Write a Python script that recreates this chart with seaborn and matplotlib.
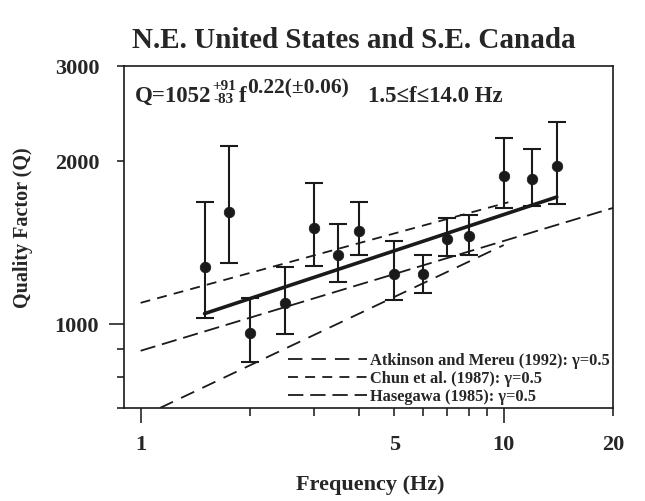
import numpy as np
import pandas as pd
import matplotlib
matplotlib.use("Agg")
import matplotlib.pyplot as plt
import seaborn as sns
from matplotlib.ticker import FixedLocator, FuncFormatter

# ---- data ----
freq = [1.5, 1.75, 2.0, 2.5, 3.0, 3.5, 4.0, 5.0, 6.0, 7.0, 8.0, 10.0, 12.0, 14.0]
q_obs = [1276, 1612, 965, 1095, 1508, 1343, 1489, 1239, 1239, 1435, 1456, 1879, 1853, 1963]
q_upper = [1685, 2132, 1118, 1276, 1824, 1530, 1685, 1423, 1343, 1574, 1589, 2211, 2110, 2360]
q_lower = [1027, 1296, 851, 958, 1283, 1195, 1341, 1110, 1143, 1335, 1345, 1637, 1654, 1670]

fit_f = [1.5, 14.0]
fit_q = [1046, 1718]

ref_names = ["Atkinson and Mereu (1992): γ=0.5",
             "Chun et al. (1987): γ=0.5",
             "Hasegawa (1985): γ=0.5"]
atk_f = [1.13, 10.0]
atk_q = [700, 1400]
chun_f = [1.0, 10.3]
chun_q = [1095, 1680]
hase_f = [1.0, 20.0]
hase_q = [893, 1640]

x_major = [1, 10]
x_minor = [2, 3, 4, 5, 6, 7, 8, 9, 20]
x_minor_labels = {5: "5", 20: "20"}
y_major = [1000]
y_minor = [700, 800, 900, 2000, 3000]
y_minor_labels = {2000: "2000", 3000: "3000"}

# ---- style ----
sns.set_theme(style="ticks")
plt.rcParams["font.family"] = ["Liberation Serif", "DejaVu Serif"]
plt.rcParams["font.weight"] = "bold"
plt.rcParams["axes.labelweight"] = "bold"

fig = plt.figure(figsize=(6.45, 5.01), dpi=100)
ax = fig.add_axes([124/645, 1-408/501, (613-124)/645, (408-66)/501])

refs = pd.DataFrame({
    "f": atk_f + chun_f + hase_f,
    "Q": atk_q + chun_q + hase_q,
    "source": [ref_names[0]]*len(atk_f) + [ref_names[1]]*len(chun_f) + [ref_names[2]]*len(hase_f),
})
dash_map = {ref_names[0]: (8.0, 5.0), ref_names[1]: (5.5, 4.0), ref_names[2]: (8.5, 3.8)}
sns.lineplot(data=refs, x="f", y="Q", style="source", dashes=dash_map, color="k",
             lw=1.3, sort=False, ax=ax, legend="full", style_order=ref_names)

fit_df = pd.DataFrame({"f": fit_f, "Q": fit_q})
sns.lineplot(data=fit_df, x="f", y="Q", color="k", lw=2.6, ax=ax, legend=False)

yerr = [np.array(q_obs) - np.array(q_lower), np.array(q_upper) - np.array(q_obs)]
ax.errorbar(freq, q_obs, yerr=yerr, fmt="none", ecolor="k", elinewidth=1.5,
            capsize=6.5, capthick=1.5, zorder=3)
obs_df = pd.DataFrame({"f": freq, "Q": q_obs})
sns.scatterplot(data=obs_df, x="f", y="Q", color="k", s=58, edgecolor="k",
                linewidth=0.5, ax=ax, zorder=4, legend=False)

ax.set_xscale("log")
ax.set_yscale("log")
ax.set_xlim(0.9, 20)
ax.set_ylim(700, 3000)

ax.xaxis.set_major_locator(FixedLocator(x_major))
ax.xaxis.set_minor_locator(FixedLocator(x_minor))
ax.xaxis.set_major_formatter(FuncFormatter(lambda v, p: f"{v:g}"))
ax.xaxis.set_minor_formatter(FuncFormatter(lambda v, p: x_minor_labels.get(int(round(v)), "")))
ax.yaxis.set_major_locator(FixedLocator(y_major))
ax.yaxis.set_minor_locator(FixedLocator(y_minor))
ax.yaxis.set_major_formatter(FuncFormatter(lambda v, p: f"{v:g}"))
ax.yaxis.set_minor_formatter(FuncFormatter(lambda v, p: y_minor_labels.get(int(round(v)), "")))

ax.tick_params(axis="x", which="major", direction="out", length=10.8, width=1.2, pad=9.0, labelsize=16)
ax.tick_params(axis="x", which="minor", direction="out", length=5.8, width=1.2, pad=14.0, labelsize=16)
ax.tick_params(axis="y", which="major", direction="out", length=10.8, width=1.2, pad=7.2, labelsize=16)
ax.tick_params(axis="y", which="minor", direction="out", length=5.0, width=1.2, pad=12.5, labelsize=16)
for lab in ax.get_xticklabels(which="both") + ax.get_yticklabels(which="both"):
    lab.set_fontweight("bold")
for s in ax.spines.values():
    s.set_visible(True)
    s.set_linewidth(1.2)
    s.set_color("k")
ax.set_xlabel("")
ax.set_ylabel("")

# legend
h, l = ax.get_legend_handles_labels()
pairs = [(hh, ll) for hh, ll in zip(h, l) if ll in ref_names]
leg = ax.legend([p[0] for p in pairs], [p[1] for p in pairs], loc="lower right",
                frameon=False, handlelength=4.8, handletextpad=0.2,
                labelspacing=0.12, borderaxespad=0.05, borderpad=0.15,
                prop={"weight": "bold", "size": 11.8})
for line in leg.get_lines():
    line.set_linewidth(1.3)

# equation annotation
ybase = 0.896
t1 = ax.text(0.0225, ybase, "Q=1052", transform=ax.transAxes, fontsize=16.5,
             fontweight="bold", va="baseline", ha="left")
sup = ax.annotate("+91", xy=(1, ybase), xycoords=(t1, "axes fraction"), xytext=(0.5, 8.4),
                  textcoords="offset points", fontsize=11, fontweight="bold", va="baseline", ha="left")
sub = ax.annotate("-83", xy=(1, ybase), xycoords=(t1, "axes fraction"), xytext=(1.5, -1.2),
                  textcoords="offset points", fontsize=11, fontweight="bold", va="baseline", ha="left")
ff = ax.annotate("f", xy=(1, ybase), xycoords=(sup, "axes fraction"), xytext=(2.0, 0),
                 textcoords="offset points", fontsize=16.5, fontweight="bold", va="baseline", ha="left")
ex = ax.annotate("0.22(±0.06)", xy=(1, ybase), xycoords=(ff, "axes fraction"), xytext=(0.8, 6.0),
                 textcoords="offset points", fontsize=15.5, fontweight="bold", va="baseline", ha="left")
rg = ax.annotate("1.5≤f≤14.0 Hz", xy=(1, ybase), xycoords=(ex, "axes fraction"), xytext=(13.0, 0),
                 textcoords="offset points", fontsize=16.5, fontweight="bold", va="baseline", ha="left")

# title and axis labels
fig.text(354/645, 1-48/501, "N.E. United States and S.E. Canada", ha="center", va="baseline",
         fontsize=21, fontweight="bold")
fig.text(370/645, 1-490/501, "Frequency (Hz)", ha="center", va="baseline",
         fontsize=16, fontweight="bold")
fig.text(23/645, 1-228/501, "Quality Factor (Q)", ha="center", va="center", rotation=90,
         fontsize=14.5, fontweight="bold")

fig.savefig("out.png", dpi=100)
